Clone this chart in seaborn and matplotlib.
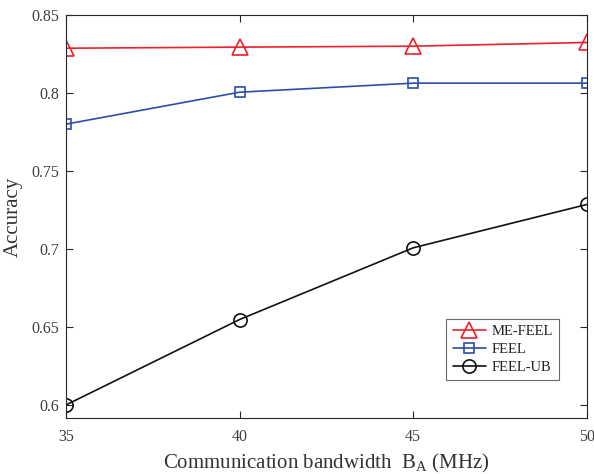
import matplotlib
matplotlib.use("Agg")
import matplotlib.pyplot as plt
import seaborn as sns
import pandas as pd

bandwidth = [35, 40, 45, 50]
me_feel = [0.8285, 0.8292, 0.8298, 0.8322]
feel = [0.7798, 0.8003, 0.8061, 0.8061]
feel_ub = [0.5997, 0.6545, 0.7005, 0.7283]

series_names = ["ME-FEEL", "FEEL", "FEEL-UB"]
series_values = [me_feel, feel, feel_ub]
colors = ["#F0202A", "#2E4DA7", "#111111"]
markers = ["^", "s", "o"]
msizes = [11.5, 7.5, 9.5]

xticks = [35, 40, 45, 50]
yticks = [0.6, 0.65, 0.7, 0.75, 0.8, 0.85]
ytick_labels = ["0.6", "0.65", "0.7", "0.75", "0.8", "0.85"]

sns.set_style("white")
plt.rcParams["font.family"] = ["Liberation Serif", "DejaVu Serif"]
plt.rcParams["mathtext.fontset"] = "custom"
plt.rcParams["mathtext.rm"] = "Liberation Serif"

fig = plt.figure(figsize=(5.94, 4.74), dpi=100)
ax = fig.add_axes([0.111, 0.118, 0.877, 0.851])

for name, vals, c, m, ms in zip(series_names, series_values, colors, markers, msizes):
    df = pd.DataFrame({"x": bandwidth, "y": vals})
    sns.lineplot(data=df, x="x", y="y", ax=ax, color=c, marker=m, markersize=ms,
                 markerfacecolor="none", markeredgecolor=c, markeredgewidth=1.2,
                 linewidth=1.2, label=name)

ax.set_xlim(35, 50)
ax.set_ylim(0.5913, 0.85)
ax.set_xticks(xticks)
ax.set_xticklabels([str(t) for t in xticks])
ax.set_yticks(yticks)
ax.set_yticklabels(ytick_labels)

ax.tick_params(direction="in", length=5, width=0.8, colors="#262626",
               labelcolor="#404040", labelsize=11.5, top=True, right=True,
               bottom=True, left=True)
ax.tick_params(axis="x", pad=8)
ax.tick_params(axis="y", pad=5)
for s in ax.spines.values():
    s.set_color("#262626")
    s.set_linewidth(0.8)
    s.set_visible(True)

ax.set_xlabel(r"Communication bandwidth  B$_{\mathregular{A}}$ (MHz)", fontsize=15,
              color="#333333", labelpad=5)
ax.set_ylabel("Accuracy", fontsize=15, color="#333333", labelpad=6)

leg = ax.legend(loc="lower right", bbox_to_anchor=(0.946, 0.094),
                borderaxespad=0, fancybox=False, frameon=True, fontsize=10.5,
                handlelength=2.3, handletextpad=0.35, labelspacing=0.32,
                borderpad=0.42)
leg.get_frame().set_edgecolor("#444444")
leg.get_frame().set_linewidth(0.8)
for t in leg.get_texts():
    t.set_color("#222222")

fig.savefig("out.png", dpi=100)
